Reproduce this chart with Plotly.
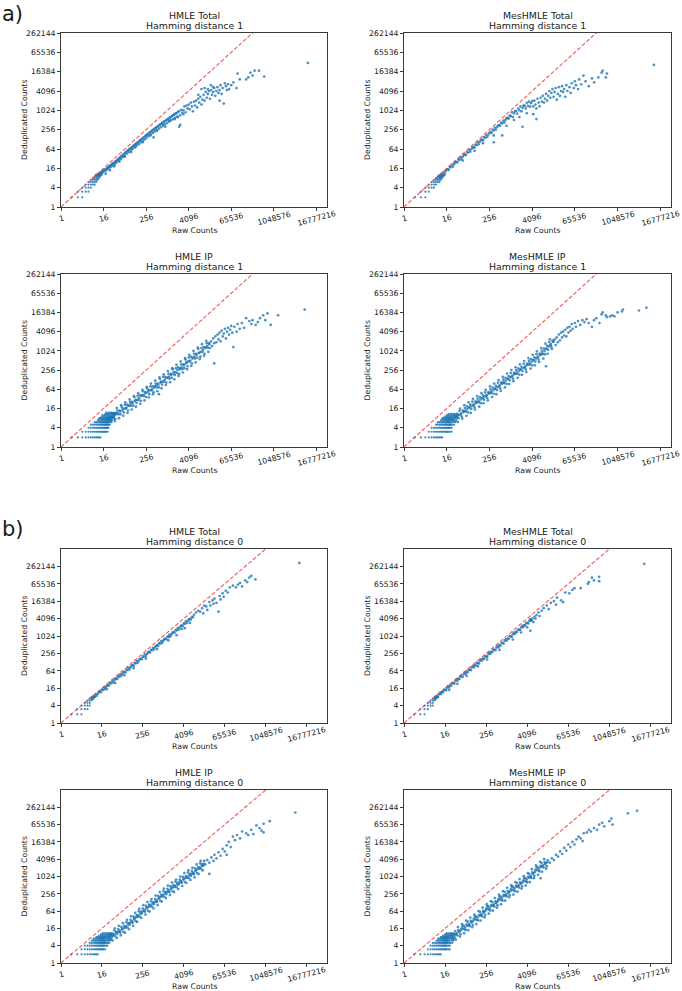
import math
import plotly.graph_objects as go

# ---------------- tick labels ----------------
X_TICKS = [1, 16, 256, 4096, 65536, 1048576, 16777216]
Y_TICKS = [1, 4, 16, 64, 256, 1024, 4096, 16384, 65536, 262144]

# ---------------- data ----------------
# low-count stripes: deduplicated count -> raw counts observed
hmle_total_h1_stripes = {
    2: [2, 3, 4], 3: [3, 4, 5, 6], 4: [4, 5, 6, 7], 5: [5, 6, 7, 8, 9],
    6: [6, 7, 8, 9, 10], 7: [7, 8, 9, 10, 11], 8: [8, 9, 10, 11, 12],
    9: [9, 10, 11, 12, 13], 10: [10, 11, 12, 13, 14],
}
# (log2 raw counts, log2 deduplicated counts)
hmle_total_h1_log2 = [
    (3.32,3.32),(3.46,3.32),(3.58,3.32),(3.58,3.46),(3.70,3.46),(3.81,3.46),(3.70,3.58),(3.81,3.58),(3.91,3.58),(3.91,3.70),
    (4.00,3.81),(4.09,3.70),(4.17,3.91),(4.25,3.81),(4.32,4.00),(4.39,4.09),(4.46,3.95),(4.52,4.17),(4.58,4.25),(4.64,4.10),
    (4.70,4.32),(4.75,4.39),(4.81,4.25),(4.86,4.52),(4.91,4.46),(5.00,4.58),(5.05,4.40),(5.10,4.70),(5.17,4.75),(5.22,4.60),
    (5.30,4.86),(5.36,4.95),(5.41,4.78),(5.49,5.05),(5.55,5.10),(5.61,4.95),(5.67,5.25),(5.73,5.32),(5.79,5.15),(5.86,5.40),
    (5.92,5.50),(5.98,5.30),(6.05,5.62),(6.11,5.68),(6.17,5.50),(6.24,5.80),(6.30,5.86),(6.36,5.66),(6.43,5.98),(6.49,6.05),
    (6.55,5.85),(6.62,6.15),(6.68,6.20),(6.74,6.00),(6.81,6.32),(6.87,6.38),(6.93,6.18),(7.00,6.50),(7.06,6.55),(7.12,6.35),
    (7.19,6.66),(7.25,6.72),(7.31,6.50),(7.38,6.84),(7.44,6.90),(7.50,6.68),(7.57,7.02),(7.63,7.06),(7.69,6.85),(7.76,7.18),
    (7.82,7.24),(7.88,7.00),(7.95,7.36),(8.01,7.42),(8.07,7.18),(8.14,7.52),(8.20,7.58),(8.26,7.35),(8.33,7.70),(8.39,7.74),
    (8.45,7.50),(8.52,7.86),(8.58,7.92),(8.64,7.66),(8.71,8.02),(8.77,8.08),(8.83,7.80),(8.90,8.18),(8.96,8.24),(9.02,7.96),
    (9.09,8.34),(9.15,8.40),(9.21,8.10),(9.28,8.50),(9.34,8.55),(9.40,8.25),(9.47,8.66),(9.53,8.70),(9.59,8.40),(9.66,8.80),
    (9.72,8.86),(9.78,8.55),(9.85,8.95),(9.91,9.00),(9.97,8.70),(10.04,9.10),(10.10,9.14),(10.16,8.85),(10.23,9.25),(10.29,9.30),
    (10.35,8.98),(10.42,9.40),(10.48,9.44),(10.54,9.10),(10.61,9.55),(10.67,9.58),(10.73,9.22),(10.80,9.70),(10.86,9.72),(10.92,9.35),
    (11.00,9.85),(11.10,9.90),(11.20,9.50),(11.30,10.05),(11.40,9.75),
    (4.2,3.45),(4.6,3.8),(5.0,4.2),(5.5,4.7),(6.0,5.2),(6.6,5.7),(7.0,6.2),(7.7,6.7),(8.4,7.4),(8.7,7.2),
    (9.0,7.9),(9.6,8.5),(9.8,8.3),(10.2,8.9),(10.7,9.1),(11.1,8.3),(11.2,8.5),(11.0,9.3),(11.5,9.6),
    (11.5,10.0),(11.6,10.4),(11.7,9.8),(11.8,10.5),(11.9,10.2),(12.0,10.6),(12.1,10.1),(12.2,10.8),(12.3,10.4),(12.4,9.9),
    (12.5,10.9),(12.6,10.5),(12.7,11.0),(12.8,10.3),(12.9,11.2),(12.9,11.6),(13.0,10.8),(13.1,11.4),(13.2,10.6),(13.2,12.2),
    (13.3,11.1),(13.4,11.6),(13.5,11.0),(13.5,12.3),(13.6,11.9),(13.7,11.3),(13.8,11.7),(13.8,12.2),(13.9,12.0),(14.0,11.2),
    (14.1,12.1),(14.1,12.6),(14.2,11.6),(14.3,11.9),(14.3,12.4),(14.4,12.3),(14.5,11.5),(14.6,12.0),(14.7,12.4),(14.8,11.8),
    (14.9,12.1),(14.9,11.0),(15.0,12.6),(15.1,11.7),(15.2,12.3),(15.3,10.7),(15.4,12.8),(15.5,12.5),(15.6,12.1),(15.7,12.7),
    (15.8,12.2),(16.0,12.6),(16.2,12.9),(16.5,12.3),(16.6,13.8),(16.8,13.2),(17.4,13.2),(17.6,13.4),(17.8,13.9),(18.0,13.6),
    (18.2,14.1),(18.6,14.1),(19.1,13.5),(23.2,14.9),
]

meshmle_total_h1_stripes = {
    2: [2, 3, 4], 3: [3, 4, 5], 4: [4, 5, 6, 7], 5: [5, 6, 7, 8],
    6: [6, 7, 8, 9, 10], 7: [7, 8, 9, 10, 11], 8: [8, 9, 10, 11, 12],
    9: [9, 10, 11, 12, 13], 10: [10, 11, 12, 13, 14],
}
meshmle_total_h1_log2 = [
    (3.3,3.15),(3.4,3.08),(3.5,3.4),(3.6,3.35),(3.7,3.62),(3.8,3.43),(3.9,3.67),(4.0,3.85),(4.1,3.92),(4.2,3.84),
    (4.3,4.16),(4.4,4.10),(4.5,4.39),(4.6,4.19),(4.7,4.44),(4.8,4.61),(4.9,4.68),(5.0,4.61),(5.1,4.92),(5.2,4.87),
    (5.3,5.15),(5.4,4.96),(5.5,5.2),(5.6,5.38),(5.7,5.45),(5.8,5.37),(5.9,5.69),(6.0,5.63),(6.1,5.92),(6.2,5.72),
    (6.3,5.97),(6.4,6.15),(6.5,6.21),(6.6,6.14),(6.7,6.45),(6.8,6.40),(6.9,6.68),(7.0,6.49),(7.1,6.74),(7.2,6.91),
    (7.3,6.98),(7.4,6.90),(7.5,7.22),(7.6,7.16),(7.7,7.45),(7.8,7.25),(7.9,7.5),(8.0,7.68),(8.1,7.74),(8.2,7.67),
    (8.3,7.98),(8.4,7.92),(8.5,8.2),(8.6,8.01),(8.7,8.25),(8.8,8.42),(8.9,8.48),(9.0,8.41),(9.1,8.72),(9.2,8.66),
    (9.3,8.94),(9.4,8.75),(9.5,8.99),(9.6,9.16),(9.7,9.22),(9.8,9.15),(9.9,9.46),(10.0,9.40),(10.1,9.81),(10.2,9.3),
    (10.3,9.68),(10.4,9.91),(10.5,9.93),(10.6,9.66),(10.7,10.18),(10.8,10.0),(10.9,10.41),(11.0,9.9),(11.1,10.26),(11.2,10.48),
    (11.3,10.48),(11.4,10.2),(11.5,10.78),(11.6,10.46),(11.7,10.9),(11.8,10.38),(11.9,10.74),(12.0,10.96),
    (5.5,4.8),(6.6,5.8),(7.4,6.6),(8.4,7.4),(8.4,6.7),(9.2,7.4),(9.6,8.4),(10.3,9.0),(10.8,9.3),(11.1,8.3),
    (11.5,9.7),(12.1,9.6),(12.4,9.1),
    (12.1,10.4),(12.2,11.0),(12.3,10.6),(12.4,10.2),(12.5,11.2),(12.6,10.8),(12.7,10.4),(12.8,11.3),(12.9,10.9),(13.0,11.5),
    (13.1,10.8),(13.2,11.2),(13.3,11.7),(13.4,11.0),(13.5,11.5),(13.6,12.0),(13.7,11.3),(13.8,11.8),(13.9,12.2),(14.0,11.4),
    (14.1,11.9),(14.2,12.3),(14.3,11.1),(14.4,11.7),(14.5,12.4),(14.6,11.5),(14.7,12.0),(14.8,12.5),(14.9,11.9),(15.0,12.2),
    (15.1,11.4),(15.2,12.6),(15.3,12.0),(15.5,12.4),(15.6,11.8),(15.7,12.8),(15.9,12.3),(16.0,13.0),(16.1,12.6),(16.3,12.2),
    (16.4,13.2),(16.6,12.7),(16.8,13.6),(17.0,13.0),(17.3,12.5),(17.6,13.3),(17.8,12.9),(18.2,13.4),(18.5,13.9),(18.6,14.1),
    (18.9,13.4),(19.0,13.8),(23.4,14.7),
]

hmle_ip_h1_stripes = {
    2: [2, 3, 4, 5, 6, 7, 8, 9, 10, 11, 12, 13],
    3: [4, 5, 6, 7, 8, 9, 10, 11, 12, 13, 14, 15, 16, 17, 18, 19, 21],
    4: [6, 7, 8, 9, 10, 11, 12, 13, 14, 15, 16, 17, 18, 19, 20, 21, 22],
    5: [7, 8, 9, 10, 11, 12, 13, 14, 15, 16, 17, 18, 19, 20, 21, 22, 24],
    6: [9, 10, 11, 12, 13, 14, 15, 16, 17, 18, 19, 20, 21, 22, 23, 25, 27],
    7: [11, 12, 13, 14, 15, 16, 17, 18, 19, 20, 21, 22, 23, 24, 26, 28],
    8: [12, 13, 14, 15, 16, 17, 18, 19, 20, 21, 22, 23, 24, 25, 27, 29, 32],
    9: [14, 16, 18, 20, 22, 24, 26, 28, 30, 32],
    10: [15, 17, 19, 21, 23, 25, 28, 30, 33],
    11: [18, 20, 22, 25, 27, 30, 34],
    12: [19, 22, 24, 27, 31, 36],
}
hmle_ip_h1_log2 = [
    (4.6,3.1),(4.7,2.8),(4.8,3.5),(4.9,3.1),(5.0,3.5),(5.1,2.9),(5.2,3.5),(5.3,3.8),(5.4,3.4),(5.5,3.8),
    (5.6,3.4),(5.7,4.2),(5.8,4.0),(5.9,3.6),(6.0,4.4),(6.1,4.0),(6.2,4.4),(6.3,3.8),(6.4,4.3),(6.5,4.7),
    (6.6,4.3),(6.7,4.7),(6.8,4.3),(6.9,5.2),(7.0,4.9),(7.1,4.6),(7.2,5.3),(7.3,4.9),(7.4,5.4),(7.5,4.8),
    (7.6,5.4),(7.7,5.8),(7.8,5.3),(7.9,5.7),(8.0,5.2),(8.1,6.1),(8.2,5.9),(8.3,5.5),(8.4,6.3),(8.5,5.9),
    (8.6,6.3),(8.7,5.7),(8.8,6.3),(8.9,6.6),(9.0,6.2),(9.1,6.6),(9.2,6.2),(9.3,7.1),(9.4,6.8),(9.5,6.5),
    (9.6,7.3),(9.7,6.8),(9.8,7.3),(9.9,6.7),(10.0,7.2),(10.1,7.6),(10.2,7.1),(10.3,7.6),(10.4,7.2),(10.5,8.1),
    (10.6,7.8),(10.7,7.5),(10.8,8.2),(10.9,7.7),(11.0,8.3),(11.1,7.6),(11.2,8.2),(11.3,8.6),(11.4,8.1),(11.5,8.6),
    (11.6,8.2),(11.7,9.1),(11.8,8.8),(11.9,8.4),(12.0,9.3),(12.1,8.9),(12.2,9.4),(12.3,8.7),(12.4,9.3),(12.5,9.7),
    (12.6,9.2),(12.7,9.7),(12.8,9.3),(12.9,10.2),(13.0,9.8),(13.1,9.4),(13.2,10.3),(13.3,9.9),(13.4,10.4),(13.5,9.7),
    (13.6,10.4),(13.7,10.8),(13.8,10.3),(13.9,10.8),(14.0,10.3),
    (4.75,3.0),(4.95,3.3),(5.15,3.4),(5.35,3.5),(5.55,3.7),(5.75,3.8),(5.95,4.0),(6.15,4.1),(6.35,4.3),(6.55,4.5),
    (6.75,4.6),(6.95,4.8),(7.15,4.9),(7.35,5.1),(7.55,5.3),(7.75,5.4),(7.95,5.6),(8.15,5.7),(8.35,5.9),(8.55,6.0),
    (8.75,6.2),(8.95,6.4),(9.15,6.5),(9.35,6.7),(9.55,6.8),(9.75,7.0),(9.95,7.2),(10.15,7.3),(10.35,7.5),(10.55,7.6),
    (10.75,7.8),(10.95,8.0),(11.15,8.1),(11.35,8.3),(11.55,8.5),(11.75,8.7),(11.95,8.9),(12.15,9.0),(12.35,9.2),(12.55,9.4),
    (12.75,9.6),(12.95,9.8),(13.15,9.9),(13.35,10.1),(13.55,10.3),(13.75,10.5),(13.95,10.7),
    (5.05,2.7),(5.25,4.05),(5.45,3.0),(5.65,4.35),(5.85,3.25),(6.05,4.65),(6.25,3.55),(6.45,4.95),(6.65,3.9),(6.85,5.3),
    (7.05,4.2),(7.25,5.6),(7.45,4.5),(7.65,5.95),(7.85,4.85),(8.05,6.25),(8.25,5.15),(8.45,6.6),(8.65,5.5),(8.85,6.9),
    (9.05,5.8),(9.25,7.25),(9.45,6.1),(9.65,7.55),(9.85,6.45),(10.05,7.9),(10.25,6.75),(10.45,8.2),(10.65,7.05),(10.85,8.55),
    (11.05,7.4),(11.25,8.9),(11.45,7.75),(11.65,9.25),(11.85,8.1),(12.05,9.6),(12.25,8.45),(12.45,10.0),(12.65,8.8),(12.85,10.35),
    (13.05,9.15),(13.25,10.7),(13.45,9.5),(13.65,11.05),(13.85,9.9),
    (9.2,5.5),
    (14.1,11.0),(14.2,10.5),(14.3,11.3),(14.4,8.7),(14.4,10.8),(14.5,11.5),(14.6,10.9),(14.7,11.7),(14.8,11.2),(14.9,11.9),
    (15.0,11.0),(15.1,12.1),(15.2,11.5),(15.3,11.8),(15.4,12.3),(15.5,11.3),(15.6,12.0),(15.7,12.4),(15.8,11.7),(15.9,12.2),
    (16.0,12.6),(16.1,11.9),(16.2,10.4),(16.3,12.5),(16.5,12.0),(16.6,12.8),(16.8,12.3),(17.0,12.9),(17.2,12.4),(17.4,13.4),
    (17.7,13.1),(17.9,12.8),(18.0,13.2),(18.3,12.7),(18.5,13.0),(18.7,13.4),(19.0,13.7),(19.2,13.2),(19.4,13.9),(19.7,12.7),
    (20.4,13.7),(22.9,14.3),
]

meshmle_ip_h1_stripes = {
    2: [2, 3, 4, 5, 6, 7, 8, 9, 10, 11, 12],
    3: [5, 6, 7, 8, 9, 10, 11, 12, 13, 14, 15, 16, 17, 18, 20, 22],
    4: [6, 7, 8, 9, 10, 11, 12, 13, 14, 15, 16, 17, 18, 19, 20, 22],
    5: [8, 9, 10, 11, 12, 13, 14, 15, 16, 17, 18, 19, 20, 21, 23, 26],
    6: [9, 10, 11, 12, 13, 14, 15, 16, 17, 18, 19, 20, 22, 24, 28],
    7: [11, 12, 13, 14, 15, 16, 17, 18, 19, 20, 21, 22, 24, 26, 30],
    8: [12, 13, 14, 15, 16, 17, 18, 19, 20, 21, 23, 25, 28, 32],
    9: [14, 16, 17, 19, 21, 23, 25, 28, 31],
    10: [16, 18, 20, 22, 25, 28, 33],
    11: [18, 21, 24, 27, 31],
}
meshmle_ip_h1_log2 = [
    (4.6,2.8),(4.7,3.33),(4.8,2.68),(4.9,3.19),(5.0,3.45),(5.1,3.0),(5.2,3.76),(5.3,3.39),(5.4,3.17),(5.5,3.78),
    (5.6,3.68),(5.7,4.06),(5.8,3.69),(5.9,4.24),(6.0,3.6),(6.1,4.13),(6.2,4.41),(6.3,3.96),(6.4,4.72),(6.5,4.35),
    (6.6,4.13),(6.7,4.74),(6.8,4.64),(6.9,5.02),(7.0,4.65),(7.1,5.2),(7.2,4.56),(7.3,5.09),(7.4,5.37),(7.5,4.92),
    (7.6,5.68),(7.7,5.31),(7.8,5.09),(7.9,5.7),(8.0,5.6),(8.1,5.99),(8.2,5.62),(8.3,6.18),(8.4,5.54),(8.5,6.08),
    (8.6,6.36),(8.7,5.92),(8.8,6.68),(8.9,6.32),(9.0,6.1),(9.1,6.72),(9.2,6.62),(9.3,7.01),(9.4,6.64),(9.5,7.2),
    (9.6,6.56),(9.7,7.1),(9.8,7.38),(9.9,6.94),(10.0,7.7),(10.1,7.33),(10.2,7.11),(10.3,7.72),(10.4,7.62),(10.5,8.0),
    (10.6,7.63),(10.7,8.18),(10.8,7.54),(10.9,8.07),(11.0,8.35),(11.1,7.9),(11.2,8.66),(11.3,8.29),(11.4,8.07),(11.5,8.68),
    (11.6,8.58),(11.7,8.96),(11.8,8.59),(11.9,9.14),(12.0,8.5),(12.1,9.04),(12.2,9.33),(12.3,8.89),(12.4,9.66),(12.5,9.3),
    (12.6,9.09),(12.7,9.71),(12.8,9.62),(12.9,10.01),(13.0,9.65),(13.1,10.24),(13.2,9.64),(13.3,10.21),(13.4,10.53),(13.5,10.12),
    (13.6,10.92),(13.7,10.59),(13.8,10.41),(13.9,11.06),(14.0,11.0),
    (4.75,3.04),(4.95,3.17),(5.15,3.32),(5.35,3.48),(5.55,3.64),(5.75,3.8),(5.95,3.96),(6.15,4.12),(6.35,4.28),(6.55,4.44),
    (6.75,4.6),(6.95,4.76),(7.15,4.92),(7.35,5.08),(7.55,5.24),(7.75,5.4),(7.95,5.56),(8.15,5.73),(8.35,5.9),(8.55,6.07),
    (8.75,6.24),(8.95,6.41),(9.15,6.58),(9.35,6.75),(9.55,6.92),(9.75,7.09),(9.95,7.26),(10.15,7.42),(10.35,7.58),(10.55,7.74),
    (10.75,7.9),(10.95,8.06),(11.15,8.22),(11.35,8.38),(11.55,8.54),(11.75,8.7),(11.95,8.86),(12.15,9.04),(12.35,9.22),(12.55,9.4),
    (12.75,9.58),(12.95,9.76),(13.15,9.98),(13.35,10.22),(13.55,10.46),(13.75,10.7),(13.95,10.94),
    (5.05,2.6),(5.25,4.0),(5.45,2.95),(5.65,4.35),(5.85,3.25),(6.05,4.65),(6.25,3.55),(6.45,5.0),(6.65,3.9),(6.85,5.3),
    (7.05,4.2),(7.25,5.6),(7.45,4.55),(7.65,5.95),(7.85,4.85),(8.05,6.3),(8.25,5.2),(8.45,6.6),(8.65,5.5),(8.85,6.95),
    (9.05,5.85),(9.25,7.3),(9.45,6.2),(9.65,7.65),(9.85,6.55),(10.05,8.0),(10.25,6.85),(10.45,8.3),(10.65,7.2),(10.85,8.6),
    (11.05,7.5),(11.25,8.95),(11.45,7.8),(11.65,9.25),(11.85,8.15),(12.05,9.6),(12.25,8.5),(12.45,9.95),(12.65,8.85),(12.85,10.3),
    (13.05,9.2),(13.25,10.75),(13.45,9.7),(13.65,11.2),(13.85,10.2),
    (13.3,8.4),
    (14.1,11.2),(14.2,10.6),(14.3,11.4),(14.4,10.9),(14.5,11.7),(14.6,11.1),(14.7,11.9),(14.8,11.4),(14.9,12.0),(15.0,11.6),
    (15.1,12.2),(15.2,11.5),(15.3,12.4),(15.4,11.9),(15.5,12.5),(15.6,12.1),(15.7,12.8),(15.8,12.3),(16.0,12.9),(16.1,12.5),
    (16.3,13.1),(16.5,12.7),(16.7,13.2),(16.9,13.0),(17.1,13.3),(17.3,12.9),(17.6,12.5),(17.8,13.2),(18.0,13.4),(18.3,12.9),
    (18.5,13.8),(18.6,14.0),(18.9,13.7),(19.0,13.5),(19.3,13.6),(19.5,13.7),(19.7,13.6),(20.0,14.0),(20.4,14.1),(20.5,14.3),
    (22.0,14.2),(22.7,14.5),
]

hmle_total_h0_stripes = {
    2: [2, 3, 4], 3: [3, 4, 5, 6], 4: [4, 5, 6, 7], 5: [5, 6, 7],
    6: [6, 7, 8], 7: [7, 8, 9], 8: [8, 9, 10],
}
hmle_total_h0_log2 = [
    (3.0,2.85),(3.1,2.78),(3.2,3.09),(3.3,3.04),(3.4,3.32),(3.5,3.13),(3.6,3.37),(3.7,3.55),(3.8,3.61),(3.9,3.54),
    (4.0,3.85),(4.1,3.80),(4.2,4.08),(4.3,3.89),(4.4,4.13),(4.5,4.31),(4.6,4.37),(4.7,4.30),(4.8,4.61),(4.9,4.56),
    (5.0,4.84),(5.1,4.65),(5.2,4.89),(5.3,5.07),(5.4,5.13),(5.5,5.06),(5.6,5.37),(5.7,5.32),(5.8,5.60),(5.9,5.41),
    (6.0,5.65),(6.1,5.83),(6.2,5.89),(6.3,5.82),(6.4,6.13),(6.5,6.08),(6.6,6.36),(6.7,6.17),(6.8,6.41),(6.9,6.59),
    (7.0,6.65),(7.1,6.58),(7.2,6.89),(7.3,6.84),(7.4,7.12),(7.5,6.93),(7.6,7.17),(7.7,7.35),(7.8,7.41),(7.9,7.34),
    (8.0,7.65),(8.1,7.60),(8.2,7.88),(8.3,7.69),(8.4,7.93),(8.5,8.11),(8.6,8.17),(8.7,8.10),(8.8,8.41),(8.9,8.36),
    (9.0,8.64),(9.1,8.45),(9.2,8.69),(9.3,8.87),(9.4,8.93),(9.5,8.86),(9.6,9.17),(9.7,9.12),(9.8,9.40),(9.9,9.21),
    (10.0,9.45),(10.1,9.63),(10.2,9.69),(10.3,9.62),(10.4,9.93),(10.5,9.88),(10.6,10.16),(10.7,9.97),(10.8,10.21),(10.9,10.39),
    (11.0,10.45),(11.1,10.38),(11.2,10.69),(11.3,10.64),(11.4,10.92),(11.5,10.73),(11.6,10.97),(11.7,11.15),(11.8,11.21),(11.9,11.14),
    (12.0,11.45),(12.1,11.40),(12.2,11.68),(12.3,11.49),(12.4,11.73),(12.5,11.91),(12.6,11.97),(12.7,11.90),(12.8,12.21),(12.9,12.16),
    (13.0,12.44),
    (4.5,3.9),(5.3,4.6),(6.2,5.5),(7.1,6.3),(8.3,7.4),(9.4,8.5),(10.5,9.5),(10.6,9.96),(11.3,10.1),(11.8,10.8),
    (12.1,10.9),(12.6,11.5),
    (13.2,12.7),(13.4,12.9),(13.6,12.8),(13.8,13.2),(13.9,12.6),(14.0,13.5),(14.2,13.4),(14.3,13.0),(14.5,13.9),(14.6,13.5),
    (14.8,14.1),(14.9,13.7),(15.0,14.3),(15.2,13.8),(15.4,12.8),(15.5,14.6),(15.6,14.2),(15.8,14.9),(15.9,14.5),(16.1,15.2),
    (16.3,15.0),(16.5,15.6),(16.8,15.8),(17.1,15.6),(17.3,15.9),(17.5,16.1),(17.7,15.7),(18.0,16.4),(18.2,16.2),(18.4,16.7),
    (18.6,16.9),(19.0,16.5),(23.3,18.4),
]

meshmle_total_h0_stripes = {
    2: [2, 3, 4], 3: [3, 4, 5], 4: [4, 5, 6, 7], 5: [5, 6, 7],
    6: [6, 7, 8], 7: [7, 8, 9], 8: [8, 9, 10],
}
meshmle_total_h0_log2 = [
    (3.0,2.77),(3.1,3.07),(3.2,3.04),(3.3,3.0),(3.4,3.29),(3.5,3.48),(3.6,3.33),(3.7,3.56),(3.8,3.54),(3.9,3.83),
    (4.0,3.81),(4.1,3.77),(4.2,4.06),(4.3,4.25),(4.4,4.09),(4.5,4.33),(4.6,4.31),(4.7,4.6),(4.8,4.58),(4.9,4.53),
    (5.0,4.83),(5.1,5.02),(5.2,4.86),(5.3,5.1),(5.4,5.07),(5.5,5.37),(5.6,5.35),(5.7,5.3),(5.8,5.6),(5.9,5.78),
    (6.0,5.63),(6.1,5.87),(6.2,5.84),(6.3,6.14),(6.4,6.11),(6.5,6.07),(6.6,6.37),(6.7,6.55),(6.8,6.4),(6.9,6.63),
    (7.0,6.61),(7.1,6.91),(7.2,6.88),(7.3,6.84),(7.4,7.13),(7.5,7.32),(7.6,7.17),(7.7,7.4),(7.8,7.38),(7.9,7.67),
    (8.0,7.65),(8.1,7.61),(8.2,7.9),(8.3,8.09),(8.4,7.93),(8.5,8.17),(8.6,8.15),(8.7,8.44),(8.8,8.42),(8.9,8.37),
    (9.0,8.67),(9.1,8.86),(9.2,8.7),(9.3,8.94),(9.4,8.91),(9.5,9.21),(9.6,9.19),(9.7,9.14),(9.8,9.44),(9.9,9.62),
    (10.0,9.47),(10.1,9.71),(10.2,9.68),(10.3,9.98),(10.4,9.95),(10.5,9.91),(10.6,10.21),(10.7,10.39),(10.8,10.24),(10.9,10.47),
    (11.0,10.45),(11.1,10.75),(11.2,10.72),(11.3,10.68),(11.4,10.97),(11.5,11.16),(11.6,11.01),(11.7,11.24),(11.8,11.22),(11.9,11.51),
    (12.0,11.49),(12.1,11.45),(12.2,11.74),(12.3,11.93),(12.4,11.77),(12.5,12.01),
    (4.4,3.8),(5.2,4.5),(6.1,5.4),(7.2,6.5),(8.1,7.3),(9.3,8.4),(10.6,9.6),(11.4,10.4),(12.0,11.0),(12.6,11.6),
    (12.3,10.6),(12.4,11.8),(12.7,12.2),(12.8,12.0),(12.9,12.4),(13.1,12.7),(13.2,12.3),(13.4,12.9),(13.6,13.2),(13.9,13.5),
    (14.1,13.1),(14.3,13.8),(14.6,14.0),(14.8,13.6),(14.9,14.4),(15.3,14.1),(15.5,13.9),(15.7,15.0),(16.1,14.9),(16.4,15.3),
    (16.6,15.5),(17.2,15.5),(17.9,16.0),(18.0,16.2),(18.3,16.7),(18.5,16.4),(19.0,16.8),(19.0,16.3),(23.4,18.3),
]

hmle_ip_h0_stripes = {
    2: [2, 3, 4, 5, 6, 7, 8, 9, 10, 11, 12],
    3: [4, 5, 6, 7, 8, 9, 10, 11, 12, 13, 14, 15, 16, 17, 18, 20],
    4: [5, 6, 7, 8, 9, 10, 11, 12, 13, 14, 15, 16, 17, 18, 19, 21, 23],
    5: [7, 8, 9, 10, 11, 12, 13, 14, 15, 16, 17, 18, 19, 20, 22, 24, 26],
    6: [8, 9, 10, 11, 12, 13, 14, 15, 16, 17, 18, 19, 20, 22, 25, 28],
    7: [9, 10, 11, 12, 13, 14, 15, 16, 17, 18, 19, 21, 23, 26, 30],
    8: [11, 12, 13, 14, 15, 16, 17, 18, 19, 20, 22, 24, 27, 32],
    9: [13, 15, 17, 19, 21, 23, 26, 29],
    10: [15, 17, 19, 22, 25, 28, 32],
    11: [17, 20, 23, 26, 30],
}
hmle_ip_h0_log2 = [
    (4.6,2.67),(4.7,3.34),(4.8,3.11),(4.9,2.73),(5.0,3.4),(5.1,3.17),(5.2,3.76),(5.3,3.11),(5.4,3.6),(5.5,3.37),
    (5.6,3.92),(5.7,3.64),(5.8,3.51),(5.9,4.18),(6.0,3.95),(6.1,3.6),(6.2,4.3),(6.3,4.1),(6.4,4.72),(6.5,4.1),
    (6.6,4.62),(6.7,4.42),(6.8,5.0),(6.9,4.75),(7.0,4.65),(7.1,5.36),(7.2,5.17),(7.3,4.83),(7.4,5.54),(7.5,5.35),
    (7.6,5.98),(7.7,5.37),(7.8,5.9),(7.9,5.71),(8.0,6.3),(8.1,6.04),(8.2,5.93),(8.3,6.62),(8.4,6.41),(8.5,6.05),
    (8.6,6.74),(8.7,6.53),(8.8,7.14),(8.9,6.51),(9.0,7.02),(9.1,6.82),(9.2,7.4),(9.3,7.15),(9.4,7.05),(9.5,7.75),
    (9.6,7.55),(9.7,7.2),(9.8,7.9),(9.9,7.7),(10.0,8.32),(10.1,7.69),(10.2,8.2),(10.3,7.99),(10.4,8.56),(10.5,8.3),
    (10.6,8.19),(10.7,8.88),(10.8,8.67),(10.9,8.31),(11.0,9.0),(11.1,8.79),(11.2,9.4),(11.3,8.77),(11.4,9.28),(11.5,9.07),
    (11.6,9.64),(11.7,9.38),(11.8,9.27),(11.9,9.96),(12.0,9.75),(12.1,9.38),(12.2,10.06),(12.3,9.84),(12.4,10.44),(12.5,9.8),
    (12.6,10.3),(12.7,10.08),(12.8,10.64),(12.9,10.37),(13.0,10.25),(13.1,10.95),(13.2,10.75),(13.3,10.4),(13.4,11.1),(13.5,10.9),
    (13.6,11.52),(13.7,10.9),(13.8,11.42),(13.9,11.22),(14.0,11.8),
    (4.75,3.02),(4.95,3.17),(5.15,3.3),(5.35,3.45),(5.55,3.59),(5.75,3.72),(5.95,3.87),(6.15,4.05),(6.35,4.25),(6.55,4.45),
    (6.75,4.65),(6.95,4.85),(7.15,5.07),(7.35,5.29),(7.55,5.5),(7.75,5.72),(7.95,5.95),(8.15,6.13),(8.35,6.31),(8.55,6.5),
    (8.75,6.68),(8.95,6.86),(9.15,7.05),(9.35,7.25),(9.55,7.45),(9.75,7.65),(9.95,7.85),(10.15,8.03),(10.35,8.21),(10.55,8.39),
    (10.75,8.57),(10.95,8.75),(11.15,8.93),(11.35,9.11),(11.55,9.29),(11.75,9.47),(11.95,9.65),(12.15,9.82),(12.35,9.98),(12.55,10.14),
    (12.75,10.3),(12.95,10.46),(13.15,10.65),(13.35,10.85),(13.55,11.05),(13.75,11.25),(13.95,11.45),
    (5.05,2.6),(5.25,4.0),(5.45,2.9),(5.65,4.3),(5.85,3.2),(6.05,4.6),(6.25,3.5),(6.45,5.0),(6.65,3.9),(6.85,5.4),
    (7.05,4.3),(7.25,5.8),(7.45,4.75),(7.65,6.25),(7.85,5.2),(8.05,6.7),(8.25,5.6),(8.45,7.05),(8.65,5.95),(8.85,7.4),
    (9.05,6.3),(9.25,7.8),(9.45,6.7),(9.65,8.2),(9.85,7.1),(10.05,8.6),(10.25,7.5),(10.45,8.95),(10.65,7.85),(10.85,9.3),
    (11.05,8.2),(11.25,9.65),(11.45,8.55),(11.65,10.0),(11.85,8.9),(12.05,10.4),(12.25,9.25),(12.45,10.7),(12.65,9.6),(12.85,11.0),
    (13.05,9.9),(13.25,11.4),(13.45,10.3),(13.65,11.8),(13.85,10.7),
    (14.1,11.4),(14.3,11.9),(14.5,10.3),(14.5,11.6),(14.7,12.2),(14.9,11.8),(15.0,12.5),(15.2,12.1),(15.4,12.8),(15.6,12.4),
    (15.8,13.2),(16.0,12.9),(16.2,12.5),(16.2,13.6),(16.4,14.0),(16.6,13.4),(16.8,14.6),(17.0,14.2),(17.2,14.8),(17.5,14.4),
    (17.7,15.2),(18.1,15.0),(18.3,14.8),(18.6,15.4),(18.8,14.9),(19.1,15.9),(19.4,15.6),(19.6,15.3),(19.8,16.1),(19.8,15.1),
    (20.4,16.4),(22.9,17.4),
]

meshmle_ip_h0_stripes = {
    2: [2, 3, 4, 5, 6, 7, 8, 9, 10, 11, 12],
    3: [5, 6, 7, 8, 9, 10, 11, 12, 13, 14, 15, 16, 17, 18, 20, 22],
    4: [6, 7, 8, 9, 10, 11, 12, 13, 14, 15, 16, 17, 18, 20, 22],
    5: [7, 8, 9, 10, 11, 12, 13, 14, 15, 16, 17, 18, 19, 21, 23, 26],
    6: [9, 10, 11, 12, 13, 14, 15, 16, 17, 18, 19, 20, 22, 25, 28],
    7: [10, 11, 12, 13, 14, 15, 16, 17, 18, 19, 21, 23, 26, 30],
    8: [12, 13, 14, 15, 16, 17, 18, 19, 20, 22, 24, 27, 31],
    9: [14, 16, 18, 20, 22, 25, 28],
    10: [16, 18, 20, 23, 26, 30],
    11: [18, 21, 24, 28],
}
meshmle_ip_h0_log2 = [
    (4.6,3.3),(4.7,2.88),(4.8,2.77),(4.9,3.38),(5.0,3.7),(5.1,3.31),(5.2,3.18),(5.3,3.79),(5.4,3.66),(5.5,3.33),
    (5.6,4.02),(5.7,4.28),(5.8,4.32),(5.9,3.91),(6.0,3.82),(6.1,4.44),(6.2,4.78),(6.3,4.39),(6.4,4.26),(6.5,4.87),
    (6.6,4.74),(6.7,4.41),(6.8,5.1),(6.9,5.36),(7.0,5.4),(7.1,5.0),(7.2,4.92),(7.3,5.55),(7.4,5.9),(7.5,5.52),
    (7.6,5.4),(7.7,6.02),(7.8,5.9),(7.9,5.58),(8.0,6.28),(8.1,6.54),(8.2,6.58),(8.3,6.17),(8.4,6.08),(8.5,6.7),
    (8.6,7.04),(8.7,6.65),(8.8,6.52),(8.9,7.13),(9.0,7.0),(9.1,6.68),(9.2,7.38),(9.3,7.65),(9.4,7.7),(9.5,7.3),
    (9.6,7.22),(9.7,7.85),(9.8,8.2),(9.9,7.82),(10.0,7.7),(10.1,8.31),(10.2,8.17),(10.3,7.84),(10.4,8.52),(10.5,8.78),
    (10.6,8.81),(10.7,8.4),(10.8,8.3),(10.9,8.92),(11.0,9.25),(11.1,8.86),(11.2,8.72),(11.3,9.33),(11.4,9.19),(11.5,8.86),
    (11.6,9.54),(11.7,9.8),(11.8,9.83),(11.9,9.42),(12.0,9.32),(12.1,9.96),(12.2,10.32),(12.3,9.95),(12.4,9.84),(12.5,10.47),
    (12.6,10.36),(12.7,10.05),(12.8,10.76),(12.9,11.04),(13.0,11.1),(13.1,10.69),(13.2,10.6),(13.3,11.22),(13.4,11.56),(13.5,11.17),
    (13.6,11.04),(13.7,11.65),(13.8,11.52),(13.9,11.19),(14.0,11.88),
    (4.75,3.11),(4.95,3.27),(5.15,3.43),(5.35,3.61),(5.55,3.79),(5.75,3.97),(5.95,4.15),(6.15,4.33),(6.35,4.51),(6.55,4.69),
    (6.75,4.87),(6.95,5.05),(7.15,5.25),(7.35,5.45),(7.55,5.65),(7.75,5.85),(7.95,6.05),(8.15,6.23),(8.35,6.41),(8.55,6.59),
    (8.75,6.77),(8.95,6.95),(9.15,7.15),(9.35,7.35),(9.55,7.55),(9.75,7.75),(9.95,7.95),(10.15,8.13),(10.35,8.3),(10.55,8.47),
    (10.75,8.64),(10.95,8.81),(11.15,8.98),(11.35,9.15),(11.55,9.32),(11.75,9.49),(11.95,9.66),(12.15,9.86),(12.35,10.08),(12.55,10.3),
    (12.75,10.52),(12.95,10.74),(13.15,10.93),(13.35,11.11),(13.55,11.29),(13.75,11.47),(13.95,11.65),
    (5.05,2.7),(5.25,4.15),(5.45,3.05),(5.65,4.5),(5.85,3.45),(6.05,4.9),(6.25,3.8),(6.45,5.25),(6.65,4.15),(6.85,5.6),
    (7.05,4.5),(7.25,6.0),(7.45,4.9),(7.65,6.4),(7.85,5.3),(8.05,6.8),(8.25,5.7),(8.45,7.15),(8.65,6.05),(8.85,7.5),
    (9.05,6.4),(9.25,7.9),(9.45,6.8),(9.65,8.3),(9.85,7.2),(10.05,8.7),(10.25,7.6),(10.45,9.0),(10.65,7.9),(10.85,9.35),
    (11.05,8.25),(11.25,9.7),(11.45,8.6),(11.65,10.05),(11.85,8.95),(12.05,10.4),(12.25,9.35),(12.45,10.85),(12.65,9.8),(12.85,11.3),
    (13.05,10.2),(13.25,11.7),(13.45,10.55),(13.65,12.0),(13.85,10.9),
    (13.3,9.8),
    (14.2,11.6),(14.4,12.1),(14.6,11.9),(14.8,12.5),(15.0,12.3),(15.2,12.9),(15.4,12.6),(15.6,13.3),(15.8,13.0),(16.0,13.7),
    (16.2,13.4),(16.4,14.0),(16.6,13.7),(16.8,14.3),(17.0,14.6),(17.2,14.4),(17.4,14.1),(17.5,15.0),(17.8,15.1),(18.0,15.4),
    (18.2,15.2),(18.5,15.6),(18.8,15.4),(19.0,16.0),(19.3,16.2),(19.5,15.8),(20.0,16.4),(20.2,16.7),(20.3,16.0),(21.8,17.3),
    (22.7,17.6),
]

# ---------------- layout helpers ----------------
W, H = 682, 991
COLS_PX = [(61, 327), (404, 671)]
ROWS_PX = [(33, 207), (274, 447), (549, 723), (790, 963)]
LOG2 = math.log10(2)

panels = [
    dict(title="HMLE Total", hd=1, stripes=hmle_total_h1_stripes, pts=hmle_total_h1_log2, row=0, col=0),
    dict(title="MesHMLE Total", hd=1, stripes=meshmle_total_h1_stripes, pts=meshmle_total_h1_log2, row=0, col=1),
    dict(title="HMLE IP", hd=1, stripes=hmle_ip_h1_stripes, pts=hmle_ip_h1_log2, row=1, col=0),
    dict(title="MesHMLE IP", hd=1, stripes=meshmle_ip_h1_stripes, pts=meshmle_ip_h1_log2, row=1, col=1),
    dict(title="HMLE Total", hd=0, stripes=hmle_total_h0_stripes, pts=hmle_total_h0_log2, row=2, col=0),
    dict(title="MesHMLE Total", hd=0, stripes=meshmle_total_h0_stripes, pts=meshmle_total_h0_log2, row=2, col=1),
    dict(title="HMLE IP", hd=0, stripes=hmle_ip_h0_stripes, pts=hmle_ip_h0_log2, row=3, col=0),
    dict(title="MesHMLE IP", hd=0, stripes=meshmle_ip_h0_stripes, pts=meshmle_ip_h0_log2, row=3, col=1),
]

FONT = "DejaVu Sans"
TXT = "#1a1a1a"
AX = "#3a3a3a"
fig = go.Figure()
annotations = []
layout = dict(
    width=W, height=H, margin=dict(l=0, r=0, t=0, b=0, autoexpand=False),
    paper_bgcolor="white", plot_bgcolor="white", showlegend=False,
    font=dict(family=FONT, color=TXT),
)

for i, p in enumerate(panels):
    s = "" if i == 0 else str(i + 1)
    x0, x1 = COLS_PX[p["col"]]
    y0, y1 = ROWS_PX[p["row"]]
    xd = [x0 / W, x1 / W]
    yd = [1 - y1 / H, 1 - y0 / H]
    xmax = 25 if p["hd"] == 1 else 26
    ymax = 18 if p["hd"] == 1 else 20

    raw = [2 ** a for a, b in p["pts"]]
    ded = [2 ** b for a, b in p["pts"]]
    s_raw, s_ded = [], []
    for d, raws in p["stripes"].items():
        s_raw += raws
        s_ded += [d] * len(raws)

    fig.add_trace(go.Scatter(
        x=s_raw, y=s_ded, mode="markers", xaxis="x" + s, yaxis="y" + s,
        marker=dict(size=2.2, color="rgba(31,119,180,0.85)", line=dict(width=0)),
        hoverinfo="skip"))
    fig.add_trace(go.Scatter(
        x=raw, y=ded, mode="markers", xaxis="x" + s, yaxis="y" + s,
        marker=dict(size=2.7, color="rgba(31,119,180,0.8)", line=dict(width=0)),
        hoverinfo="skip"))
    fig.add_trace(go.Scatter(
        x=[1, 2 ** 30], y=[1, 2 ** 30], mode="lines", xaxis="x" + s, yaxis="y" + s,
        line=dict(color="rgba(240,60,60,0.85)", width=1.1, dash="4px,2px"), hoverinfo="skip"))

    layout["xaxis" + s] = dict(
        domain=xd, anchor="y" + s, type="log", range=[0, xmax * LOG2], automargin=False,
        tickvals=X_TICKS, showticklabels=False, ticks="outside", ticklen=3,
        tickcolor=AX, showline=True, mirror=True, linecolor=AX, linewidth=1,
        showgrid=False, zeroline=False)
    layout["yaxis" + s] = dict(
        domain=yd, anchor="x" + s, type="log", range=[0, ymax * LOG2], automargin=False,
        tickvals=Y_TICKS, ticktext=[str(v) for v in Y_TICKS], ticks="outside", ticklen=3,
        tickcolor=AX, tickfont=dict(size=7.7, family=FONT, color=TXT),
        showline=True, mirror=True, linecolor=AX, linewidth=1,
        showgrid=False, zeroline=False)

    cx = (xd[0] + xd[1]) / 2
    annotations.append(dict(text=p["title"], x=cx, y=yd[1], xref="paper", yref="paper",
                            xanchor="center", yanchor="middle", yshift=18, showarrow=False,
                            font=dict(size=9.4, family=FONT, color=TXT)))
    annotations.append(dict(text="Hamming distance %d" % p["hd"], x=cx, y=yd[1], xref="paper", yref="paper",
                            xanchor="center", yanchor="middle", yshift=7.5, showarrow=False,
                            font=dict(size=9.4, family=FONT, color=TXT)))
    for v in X_TICKS:
        annotations.append(dict(text=str(v), x=math.log10(v), y=yd[0], xref="x" + s, yref="paper",
                                xanchor="center", yanchor="middle", yshift=-11.5, textangle=-15,
                                showarrow=False, font=dict(size=7.7, family=FONT, color=TXT)))
    annotations.append(dict(text="Raw Counts", x=cx, y=yd[0], xref="paper", yref="paper",
                            xanchor="center", yanchor="middle", yshift=-23, showarrow=False,
                            font=dict(size=7.7, family=FONT, color=TXT)))
    annotations.append(dict(text="Deduplicated Counts", x=xd[0], y=(yd[0] + yd[1]) / 2,
                            xref="paper", yref="paper", xanchor="center", yanchor="middle",
                            xshift=-37, textangle=-90, showarrow=False,
                            font=dict(size=7.7, family=FONT, color=TXT)))

annotations.append(dict(text="a)", x=0, y=1 - 14 / H, xref="paper", yref="paper",
                        xanchor="left", yanchor="middle", showarrow=False,
                        font=dict(size=21, family=FONT, color=TXT)))
annotations.append(dict(text="b)", x=0, y=1 - 529 / H, xref="paper", yref="paper",
                        xanchor="left", yanchor="middle", showarrow=False,
                        font=dict(size=21, family=FONT, color=TXT)))

layout["annotations"] = annotations
fig.update_layout(**layout)
fig.write_html(
    "out.html",
    config={"displayModeBar": False},
    post_script="document.body.style.margin='0';document.body.style.overflow='hidden';",
)
